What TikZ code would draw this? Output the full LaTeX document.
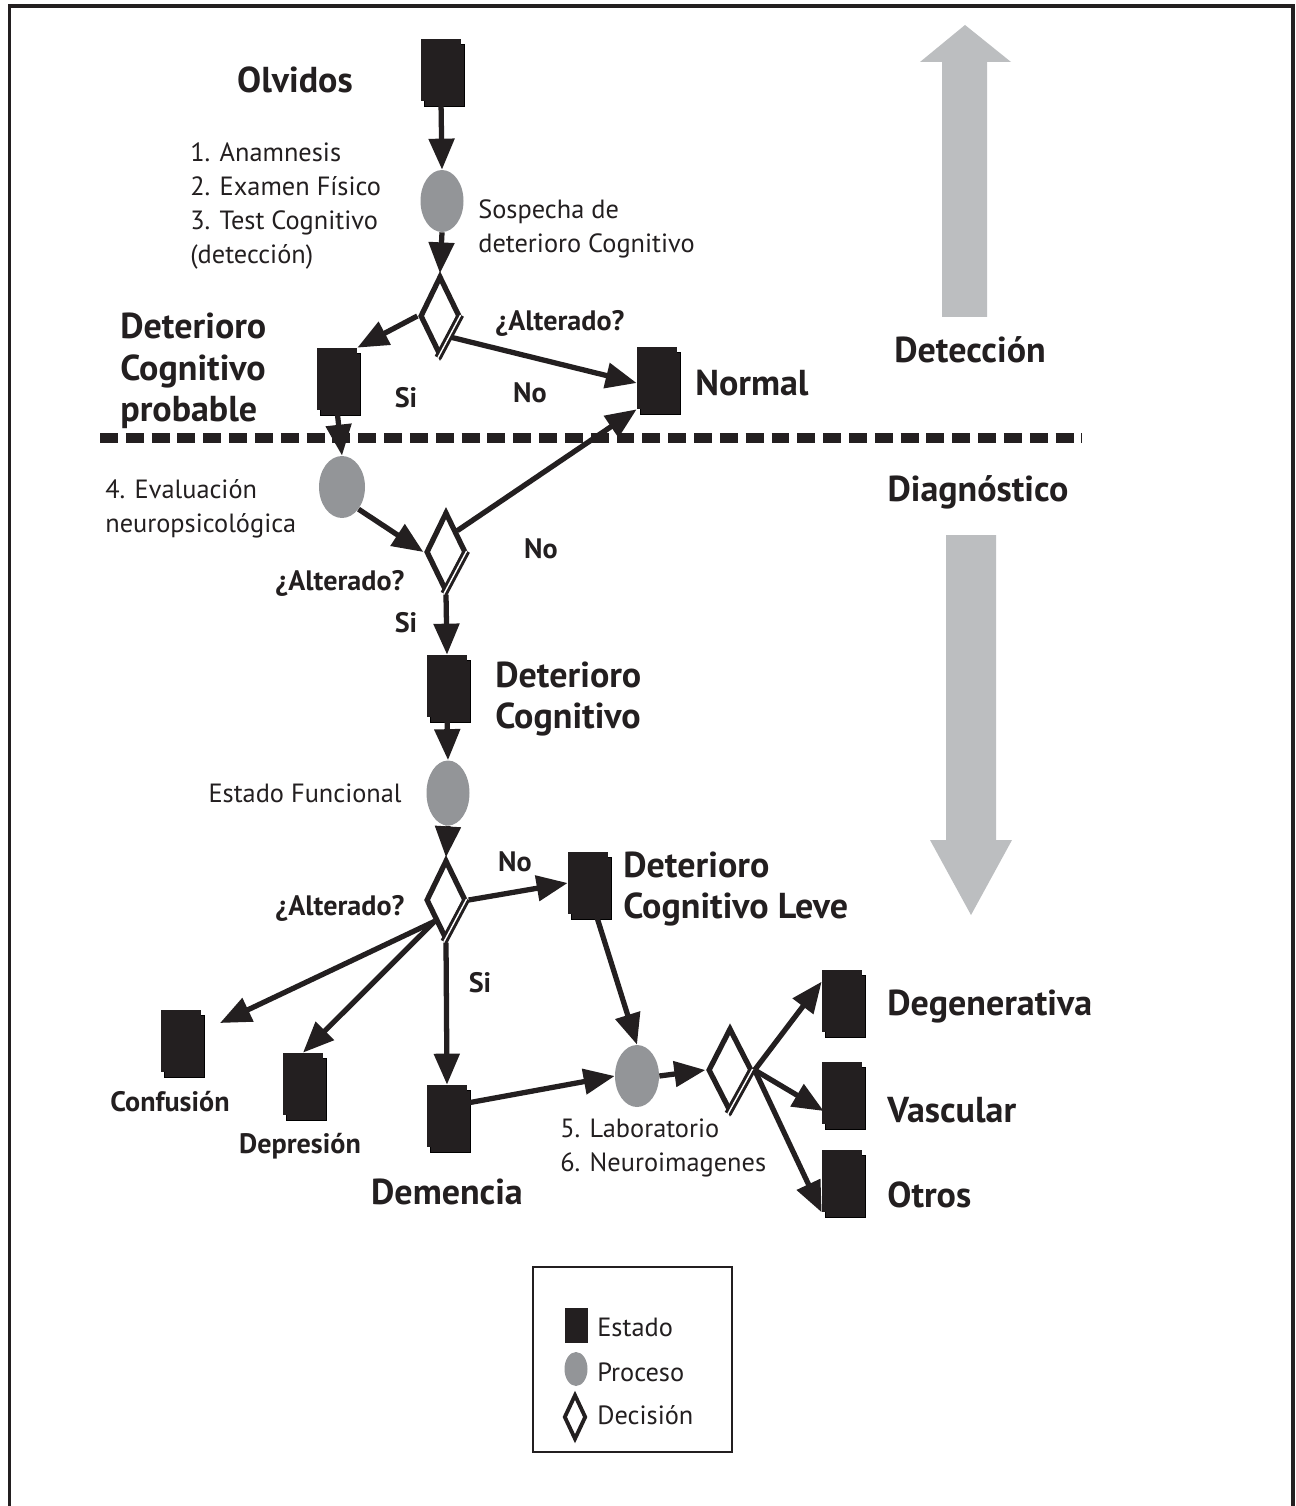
\documentclass[tikz,border=0pt]{standalone}
\usepackage{fontspec}
\setmainfont{PT Sans}
\usetikzlibrary{shapes.geometric,arrows.meta,shadows,calc}
\definecolor{ink}{HTML}{231F20}
\definecolor{procgray}{HTML}{939598}
\definecolor{bandgray}{HTML}{BCBEC0}
\newcommand\bigbf{\fontsize{20.5}{23.5}\selectfont\bfseries}
\newcommand\midbf{\fontsize{16}{19}\selectfont\bfseries}
\newcommand\lite{\fontsize{15}{19.3}\selectfont}
\tikzset{
  estado/.style={rectangle, fill=ink, minimum width=0.8cm, minimum height=1.24cm, inner sep=0pt,
    copy shadow={shadow xshift=0.066cm, shadow yshift=-0.106cm, fill=ink}},
  proceso/.style={ellipse, fill=procgray, minimum width=0.86cm, minimum height=1.24cm, inner sep=0pt},
  decision/.style={diamond, draw=ink, fill=white, line width=3pt, minimum width=0.8cm,
    minimum height=1.6cm, inner sep=0pt},
  dbl/.style={draw=ink, double=white, line width=1.7pt, double distance=0.8pt,
    transform canvas={shift={(-0.04cm,0.02cm)}}},
  arr/.style={draw=ink, line width=3pt, -{Triangle[length=0.62cm, width=0.5cm]}},
  lbig/.style={text=ink, font=\bigbf, inner sep=0pt, align=left},
  lmid/.style={text=ink, font=\midbf, inner sep=0pt, align=left},
  llite/.style={text=ink, font=\lite, inner sep=0pt, align=left}
}
\begin{document}
\begin{tikzpicture}[x=0.02cm, y=-0.02cm]
  \useasboundingbox (0,0) rectangle (1295,1506);
  \fill[white] (0,0) rectangle (1295,1506);
  \draw[ink, line width=2.2pt] (9.5,6) rectangle (1293,1530);

  \fill[bandgray] (942,317) -- (942,62) -- (920,62) -- (965,25) -- (1011,62) -- (987,62) -- (987,317) -- cycle;
  \fill[bandgray] (946,535) -- (996,535) -- (996,840) -- (1012,840) -- (971,915) -- (930,840) -- (946,840) -- cycle;

  \draw[ink, line width=5.6pt, dash pattern=on 10.2pt off 4.5pt] (100,438) -- (1082,438);

  \node[estado] (b0) at (441,70) {};
  \node[proceso] (e1) at (442,201) {};
  \node[decision] (d1) at (440,316) {};
  \node[estado] (b1) at (337,379) {};
  \node[estado] (bN) at (657,378) {};
  \node[proceso, minimum width=0.92cm] (e2) at (342,487) {};
  \node[decision] (d2) at (446,552) {};
  \node[estado] (b3) at (447,686) {};
  \node[proceso, minimum height=1.3cm] (e3) at (448,793) {};
  \node[decision] (d3) at (446,900) {};
  \node[estado] (bL) at (588,883) {};
  \node[estado] (bC) at (181,1041) {};
  \node[estado] (bD) at (303,1084) {};
  \node[estado] (bM) at (447,1116) {};
  \node[proceso, minimum width=0.88cm] (e4) at (637,1076) {};
  \node[decision, minimum width=0.88cm, minimum height=1.68cm] (d4) at (730,1070) {};
  \node[estado] (bG) at (842,1001) {};
  \node[estado] (bV) at (842,1093) {};
  \node[estado] (bO) at (842,1181) {};
  \coordinate (cC) at (220,1023);

  \draw[dbl] (d1.east) -- (d1.south);
  \draw[dbl] (d2.east) -- (d2.south);
  \draw[dbl] (d3.east) -- (d3.south);
  \draw[dbl] (d4.east) -- (d4.south);

  \draw[arr] (b0.south) -- (e1.north);
  \draw[arr] (e1.south) -- (d1.north);
  \draw[arr] (d1.west) -- (b1.north east);
  \draw[arr] (d1.south east) -- ($(bN.west)+(0,5)$);
  \draw[arr] (b1.south) -- (e2.north);
  \draw[arr] (e2.south east) -- (d2.west);
  \draw[arr] (d2.north east) -- (bN.south west);
  \draw[arr] (d2.south) -- (b3.north);
  \draw[arr] (b3.south) -- (e3.north);
  \draw[arr] (e3.south) -- (d3.north);
  \draw[arr] (d3.east) -- (bL.west);
  \draw[arr] (d3.south west) -- (cC);
  \draw[arr] (d3.south west) -- (bD.north);
  \draw[arr] (d3.south) -- (bM.north);
  \draw[arr] ($(bL.south)+(8,0)$) -- (e4.north);
  \draw[arr] ($(bM.east)+(0,-13)$) -- (e4.west);
  \draw[arr] (e4.east) -- (d4.west);
  \draw[arr] (d4.east) -- ($(bG.north west)+(0,12)$);
  \draw[arr] (d4.east) -- ($(bV.west)+(2,18)$);
  \draw[arr] (d4.east) -- (bO.south west);

  \node[lbig] (tOlv) at (295,80) {Olvidos};
  \node[lbig, anchor=west] (tDCP) at (120,371) {Deterioro\\Cognitivo\\probable};
  \node[lbig, anchor=west] (tNor) at (695,383) {Normal};
  \node[lbig] (tDet) at (970,350) {Detección};
  \node[lbig] (tDia) at (978,492) {Diagnóstico};
  \node[lbig, anchor=west] (tDC) at (495,699) {Deterioro\\Cognitivo};
  \node[lbig, anchor=west] (tDCL) at (623,889) {Deterioro\\Cognitivo Leve};
  \node[lbig] (tDem) at (447,1192) {Demencia};
  \node[lbig, anchor=west] (tDeg) at (887,1007) {Degenerativa};
  \node[lbig, anchor=west] (tVas) at (887,1110) {Vascular};
  \node[lbig, anchor=west] (tOtr) at (887,1195) {Otros};

  \node[lmid] (tAlt1) at (560,323) {¿Alterado?};
  \node[lmid] (tAlt2) at (340,583) {¿Alterado?};
  \node[lmid] (tAlt3) at (340,908) {¿Alterado?};
  \node[lmid] (tSi1) at (406,398) {Si};
  \node[lmid] (tSi2) at (406,623) {Si};
  \node[lmid] (tSi3) at (480,983) {Si};
  \node[lmid] (tNo1) at (530,393) {No};
  \node[lmid] (tNo2) at (541,549) {No};
  \node[lmid] (tNo3) at (515,862) {No};
  \node[lmid] (tCon) at (170,1102) {Confusión};
  \node[lmid] (tDep) at (300,1146) {Depresión};

  \node[llite, anchor=west] (tPasos) at (190,206) {1. Anamnesis\\2. Examen Físico\\3. Test Cognitivo\\(detección)};
  \node[llite, anchor=west] (tSos) at (478,229) {Sospecha de\\deterioro Cognitivo};
  \node[llite, anchor=west] (tEva) at (105,509) {4. Evaluación\\neuropsicológica};
  \node[llite, anchor=east] (tEF) at (402,793) {Estado Funcional};
  \node[llite, anchor=west] (tLab) at (560,1148) {5. Laboratorio\\6. Neuroimagenes};

  \draw[ink, line width=1.2pt] (533,1267) rectangle (732,1452);
  \node[rectangle, fill=ink, minimum width=0.46cm, minimum height=0.7cm, inner sep=0pt] (kE) at (576,1325) {};
  \node[ellipse, fill=procgray, minimum width=0.46cm, minimum height=0.68cm, inner sep=0pt] (kP) at (576,1369) {};
  \node[diamond, draw=ink, line width=2.2pt, minimum width=0.44cm, minimum height=0.9cm, inner sep=0pt] (kD) at (575,1417) {};
  \node[llite, anchor=west] (tE) at (597,1327) {Estado};
  \node[llite, anchor=west] (tP) at (597,1372) {Proceso};
  \node[llite, anchor=west] (tD) at (597,1415) {Decisión};
\end{tikzpicture}
\end{document}
